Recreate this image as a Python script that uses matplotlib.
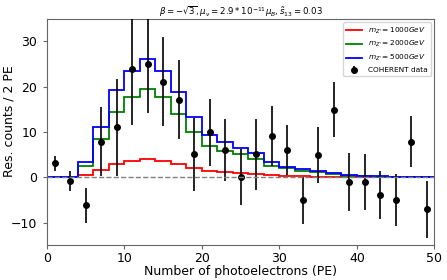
import numpy as np
import matplotlib
matplotlib.use("Agg")
import matplotlib.pyplot as plt

# bin edges (2 PE bins) and model residual predictions
edges = np.arange(0, 52, 2)
pred_1000 = [0, 0, 0.6, 1.7, 2.9, 3.6, 4.0, 3.6, 2.9, 2.0, 1.5, 1.1, 0.9,
             0.7, 0.45, 0.3, 0.2, 0.15, 0.1, 0.07, 0.05, 0.03, 0.02, 0.01, 0]
pred_2000 = [0, 0, 2.6, 8.4, 14.5, 17.8, 19.6, 17.8, 14.0, 10.0, 7.0, 5.9, 5.1,
             4.0, 2.6, 2.0, 1.4, 1.1, 0.7, 0.4, 0.2, 0.1, 0.05, 0, 0]
pred_5000 = [0, 0, 3.4, 11.2, 19.3, 23.5, 26.1, 23.5, 18.8, 13.3, 9.3, 7.7, 6.5,
             5.3, 3.3, 2.3, 1.8, 1.4, 0.9, 0.5, 0.3, 0.2, 0.05, 0, 0]

# COHERENT residual data
pe = np.arange(1, 50, 2)
res = [3.1, -0.8, -6.2, 7.9, 11.0, 24.0, 25.0, 21.1, 17.1, 5.1, 9.9, 6.0, 0.1,
       5.1, 9.1, 6.0, -5.1, 5.0, 14.9, -1.0, -1.1, -4.0, -5.0, 7.9, -7.1]
res_err = [1.7, 2.2, 3.9, 7.6, 10.6, 12.4, 10.7, 9.8, 8.7, 8.1, 7.3, 6.8, 6.2,
           7.8, 6.6, 5.5, 5.2, 6.2, 6.1, 6.4, 6.2, 5.3, 5.8, 5.7, 6.3]

fig = plt.figure(figsize=(4.47, 2.8), dpi=100)
ax = fig.add_axes([0.105, 0.124, 0.867, 0.809])

ax.stairs(pred_1000, edges, color="red", lw=1.3, label=r"$m_{Z'}=1000GeV$")
ax.stairs(pred_2000, edges, color="green", lw=1.3, label=r"$m_{Z'}=2000GeV$")
ax.stairs(pred_5000, edges, color="blue", lw=1.3, label=r"$m_{Z'}=5000GeV$")
ax.errorbar(pe, res, yerr=res_err, fmt="o", color="k", ms=4, elinewidth=1.2,
            label="COHERENT data", zorder=4)
ax.axhline(0, color="gray", ls="--", lw=1, zorder=5)

ax.set_xlim(0, 50)
ax.set_ylim(-15, 35)
ax.set_xticks([0, 10, 20, 30, 40, 50])
ax.set_yticks([-10, 0, 10, 20, 30])
ax.tick_params(labelsize=9, length=3, color="0.4")
ax.tick_params(axis="x", pad=1.5)
ax.tick_params(axis="y", pad=4)
ax.set_xlabel("Number of photoelectrons (PE)", fontsize=9, labelpad=0)
ax.set_ylabel("Res. counts / 2 PE", fontsize=9)
ax.yaxis.set_label_coords(-0.08, 0.55)
ax.set_title(r"$\beta=-\sqrt{3}, \mu_\nu=2.9*10^{-11}\mu_B, \tilde{s}_{13}=0.03$",
             fontsize=6.2, pad=3)
for s in ax.spines.values():
    s.set_color("0.4")
ax.legend(loc="upper right", fontsize=5.3, handlelength=2.2)

fig.savefig("out.png", dpi=100)
